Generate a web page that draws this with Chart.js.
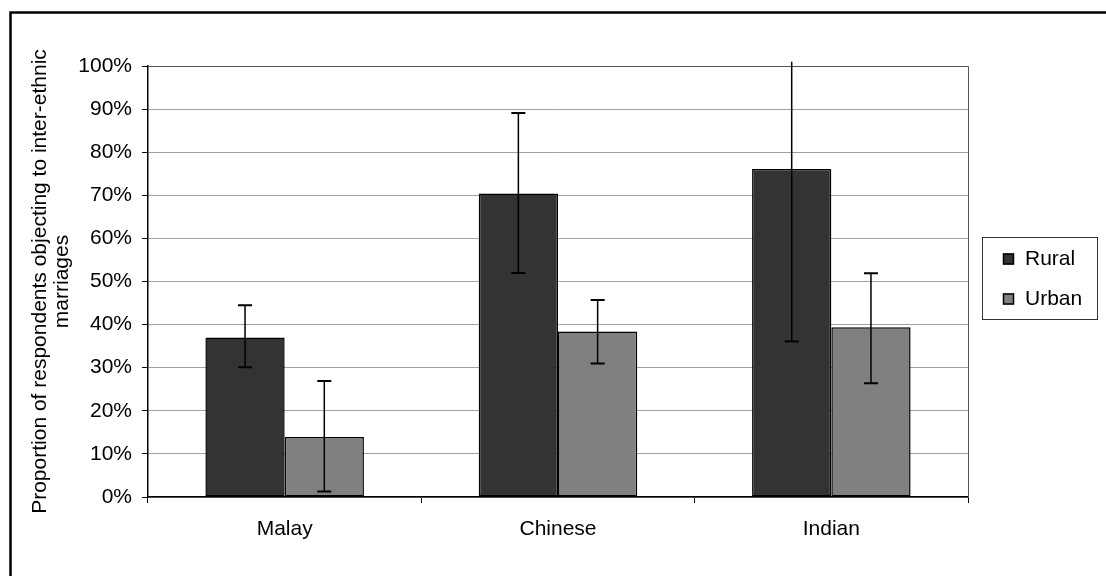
<!DOCTYPE html>
<html>
<head>
<meta charset="utf-8">
<script src="https://cdn.jsdelivr.net/npm/chart.js@4/dist/chart.umd.min.js"></script>
<style>
  html, body { margin: 0; padding: 0; background: #fff; }
  #wrap { width: 1106px; height: 576px; }
</style>
</head>
<body>
<div id="wrap"><canvas id="grafico"></canvas></div>
<script>
const categorias = ['Malay', 'Chinese', 'Indian'];
const series = ['Rural', 'Urban'];
const rural = [37.0, 70.4, 76.1];
const urban = [13.9, 38.4, 39.4];
const ruralBaixo = [30.1, 52.0, 36.1];
const ruralAlto = [44.5, 89.1, 101.0];
const urbanBaixo = [1.3, 31.0, 26.4];
const urbanAlto = [26.9, 45.7, 51.9];
const yTicks = [0, 10, 20, 30, 40, 50, 60, 70, 80, 90, 100];
const tituloY = ['Proportion of respondents objecting to inter-ethnic', 'marriages'];

const fonte = "'Liberation Sans', Arial, sans-serif";
const cores = ['#333333', '#808080'];

// barras de erro desenhadas pela escala y
const errorBars = {
    id: 'errorBars',
    afterDatasetsDraw(chart){
        const ctx = chart.ctx;
        const y = chart.scales.y;
        const limites = [[ruralBaixo, ruralAlto], [urbanBaixo, urbanAlto]];
        ctx.save();
        ctx.strokeStyle = '#000';
        chart.data.datasets.forEach((ds, i)=>{
            const meta = chart.getDatasetMeta(i);
            meta.data.forEach((bar, j)=>{
                const lo = limites[i][0][j], hi = limites[i][1][j];
                const yLo = y.getPixelForValue(lo);
                const yHi = y.getPixelForValue(hi);
                ctx.lineWidth = 1.5;
                ctx.beginPath();
                ctx.moveTo(bar.x, yLo);
                ctx.lineTo(bar.x, yHi);
                ctx.stroke();
                ctx.lineWidth = 2;
                ctx.beginPath();
                ctx.moveTo(bar.x - 7, yLo);
                ctx.lineTo(bar.x + 7, yLo);
                if(hi <= y.max){
                    ctx.moveTo(bar.x - 7, yHi);
                    ctx.lineTo(bar.x + 7, yHi);
                }
                ctx.stroke();
            });
        });
        ctx.restore();
    }
};

// moldura externa, borda da area do grafico e legenda
const moldura = {
    id: 'moldura',
    beforeDatasetsDraw(chart){
        const ctx = chart.ctx;
        const a = chart.chartArea;
        ctx.save();
        ctx.strokeStyle = '#555';
        ctx.lineWidth = 1;
        ctx.beginPath();
        ctx.moveTo(a.left, a.top + 0.5);
        ctx.lineTo(a.right + 0.5, a.top + 0.5);
        ctx.lineTo(a.right + 0.5, a.bottom);
        ctx.stroke();
        ctx.restore();
    },
    afterDraw(chart){
        const ctx = chart.ctx;
        ctx.save();
        ctx.strokeStyle = '#000';
        ctx.lineWidth = 2.5;
        ctx.strokeRect(10.5, 12.5, 1200, 600);
        // legenda
        ctx.lineWidth = 1;
        ctx.strokeStyle = '#333';
        ctx.strokeRect(982.5, 237.5, 115, 82);
        ctx.font = '21px ' + fonte;
        ctx.textBaseline = 'middle';
        chart.data.datasets.forEach((ds, i)=>{
            const cy = 258.5 + i * 40;
            ctx.fillStyle = cores[i];
            ctx.fillRect(1003, cy - 5, 11, 11);
            ctx.strokeStyle = '#000';
            ctx.lineWidth = 1.5;
            ctx.strokeRect(1003.5, cy - 4.5, 10, 10);
            ctx.fillStyle = '#000';
            ctx.fillText(ds.label, 1025, cy + 1);
        });
        ctx.restore();
    }
};

const data = {
    labels: categorias,
    datasets: [
        {
            label: series[0],
            data: rural,
            backgroundColor: cores[0],
            borderColor: '#000',
            borderWidth: 1.5,
            borderSkipped: false,
            categoryPercentage: 0.58,
            barPercentage: 1
        },
        {
            label: series[1],
            data: urban,
            backgroundColor: cores[1],
            borderColor: '#000',
            borderWidth: 1.5,
            borderSkipped: false,
            categoryPercentage: 0.58,
            barPercentage: 1
        }
    ]
};

const options = {
    responsive: true,
    maintainAspectRatio: false,
    animation: false,
    layout: { padding: { left: 29, right: 138, top: 66, bottom: 20 } },
    plugins: {
        legend: { display: false },
        tooltip: { enabled: false }
    },
    scales: {
        x: {
            offset: true,
            grid: { offset: true, drawOnChartArea: false, drawTicks: true, tickLength: 6, color: '#000' },
            border: { color: '#000', width: 1.5 },
            ticks: { color: '#000', font: { family: fonte, size: 21 }, padding: 14 },
            afterFit(scale){ scale.height = 59; }
        },
        y: {
            min: 0,
            max: 100,
            afterBuildTicks(scale){ scale.ticks = yTicks.map(v => ({ value: v })); },
            grid: { color: '#a0a0a0', tickColor: '#000', tickLength: 6 },
            border: { color: '#000', width: 1.5 },
            ticks: { color: '#000', font: { family: fonte, size: 21 }, padding: 10, callback: v => v + '%' },
            title: {
                display: true,
                text: tituloY,
                color: '#000',
                font: { family: fonte, size: 21, lineHeight: 1.05 },
                padding: { top: 0, bottom: 0 }
            },
            afterFit(scale){ scale.width = 119; }
        }
    }
};

const myChart = new Chart(document.getElementById('grafico').getContext('2d'), {
    type: 'bar',
    data: data,
    options: options,
    plugins: [errorBars, moldura]
});
</script>
</body>
</html>
